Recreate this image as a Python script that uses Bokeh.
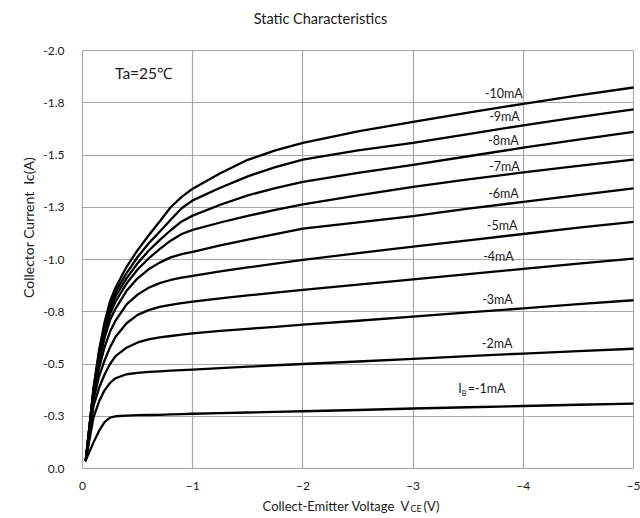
import math
from bokeh.plotting import figure
from bokeh.models import Range1d, FixedTicker, Label, PrintfTickFormatter
from bokeh.layouts import gridplot
from bokeh.embed import file_html
from bokeh.resources import INLINE

# ---- data ----
vce = [-0.03, -0.1, -0.15, -0.2, -0.25, -0.3, -0.4, -0.5, -0.6, -0.7, -0.8, -0.9,
       -1.0, -1.25, -1.5, -1.75, -2.0, -2.5, -3.0, -3.5, -4.0, -4.5, -5.0]

ic_1mA = [-0.04, -0.125, -0.18, -0.222, -0.243, -0.25, -0.253, -0.255, -0.256, -0.257, -0.259, -0.26,
          -0.262, -0.265, -0.268, -0.271, -0.274, -0.28, -0.287, -0.293, -0.299, -0.305, -0.31]
ic_2mA = [-0.04, -0.245, -0.32, -0.374, -0.41, -0.432, -0.451, -0.458, -0.462, -0.465, -0.468, -0.471,
          -0.473, -0.48, -0.487, -0.494, -0.5, -0.512, -0.525, -0.538, -0.55, -0.562, -0.573]
ic_3mA = [-0.04, -0.3, -0.385, -0.45, -0.5, -0.538, -0.578, -0.603, -0.618, -0.627, -0.634, -0.641,
          -0.647, -0.658, -0.668, -0.678, -0.688, -0.707, -0.727, -0.747, -0.766, -0.786, -0.805]
ic_4mA = [-0.04, -0.33, -0.44, -0.517, -0.58, -0.63, -0.695, -0.735, -0.758, -0.773, -0.783, -0.791,
          -0.798, -0.814, -0.828, -0.842, -0.855, -0.88, -0.905, -0.93, -0.955, -0.98, -1.004]
ic_5mA = [-0.04, -0.35, -0.48, -0.58, -0.655, -0.708, -0.785, -0.832, -0.865, -0.887, -0.902, -0.913,
          -0.922, -0.943, -0.962, -0.98, -0.998, -1.03, -1.062, -1.092, -1.122, -1.152, -1.18]
ic_6mA = [-0.04, -0.36, -0.51, -0.625, -0.71, -0.765, -0.85, -0.91, -0.953, -0.985, -1.01, -1.026,
          -1.037, -1.068, -1.095, -1.122, -1.148, -1.178, -1.208, -1.243, -1.276, -1.308, -1.34]
ic_7mA = [-0.04, -0.37, -0.53, -0.65, -0.74, -0.8, -0.885, -0.952, -1.005, -1.05, -1.09, -1.122,
          -1.142, -1.177, -1.209, -1.238, -1.264, -1.307, -1.347, -1.383, -1.417, -1.448, -1.478]
ic_8mA = [-0.04, -0.375, -0.545, -0.67, -0.76, -0.825, -0.91, -0.982, -1.042, -1.093, -1.14, -1.182,
          -1.21, -1.262, -1.307, -1.342, -1.371, -1.415, -1.453, -1.494, -1.535, -1.574, -1.611]
ic_9mA = [-0.04, -0.38, -0.555, -0.685, -0.78, -0.845, -0.935, -1.012, -1.077, -1.133, -1.19, -1.245,
          -1.283, -1.343, -1.398, -1.442, -1.478, -1.522, -1.558, -1.6, -1.642, -1.681, -1.718]
ic_10mA = [-0.04, -0.385, -0.565, -0.7, -0.8, -0.865, -0.965, -1.045, -1.115, -1.182, -1.25, -1.3,
           -1.339, -1.413, -1.477, -1.522, -1.558, -1.613, -1.658, -1.703, -1.745, -1.785, -1.823]

series = [ic_1mA, ic_2mA, ic_3mA, ic_4mA, ic_5mA, ic_6mA, ic_7mA, ic_8mA, ic_9mA, ic_10mA]
curve_labels = ["=-1mA", "-2mA", "-3mA", "-4mA", "-5mA", "-6mA", "-7mA", "-8mA", "-9mA", "-10mA"]

x_ticks = [0, -1, -2, -3, -4, -5]
y_ticks = [0, -0.25, -0.5, -0.75, -1.0, -1.25, -1.5, -1.75, -2.0]

FONT = "Lato"
TXT = "#1a1a1a"
GRID = "#a6a6a6"

# canvas geometry (pixels)
LEFT_W = 38            # strip holding the y-axis title
FRAME_L, FRAME_R = 82, 633
FRAME_T, FRAME_B = 50, 468
TOP_H = 34
BOT_H = 25
MAIN_W = 640 - LEFT_W
MAIN_H = 518 - TOP_H - BOT_H


def text_strip(width, height, xr, yr):
    f = figure(width=width, height=height, output_backend="svg", toolbar_location=None,
               x_range=xr, y_range=yr, min_border=0, x_axis_type=None, y_axis_type=None)
    f.outline_line_color = None
    f.grid.visible = False
    f.background_fill_color = "white"
    f.border_fill_color = "white"
    return f


# ---- main chart ----
p = figure(width=MAIN_W, height=MAIN_H, output_backend="svg", toolbar_location=None,
           x_range=Range1d(0, -5), y_range=Range1d(0, -2),
           min_border_left=FRAME_L - LEFT_W, min_border_right=640 - FRAME_R,
           min_border_top=FRAME_T - TOP_H, min_border_bottom=BOT_H)
p.background_fill_color = "white"
p.border_fill_color = "white"
p.outline_line_color = GRID
p.outline_line_width = 1

for ax in (p.xaxis, p.yaxis):
    ax.axis_line_color = GRID
    ax.major_tick_line_color = None
    ax.minor_tick_line_color = None
    ax.major_label_text_font = FONT
    ax.major_label_text_font_size = "12px"
    ax.major_label_text_color = TXT

p.xaxis.ticker = FixedTicker(ticks=x_ticks)
p.yaxis.ticker = FixedTicker(ticks=y_ticks)
p.yaxis.formatter = PrintfTickFormatter(format="%.1f")
p.xaxis.major_label_standoff = 7
p.yaxis.major_label_standoff = 12

p.xgrid.grid_line_color = GRID
p.ygrid.grid_line_color = GRID
p.xgrid.grid_line_width = 1.2
p.ygrid.grid_line_width = 1.2
p.xgrid.ticker = FixedTicker(ticks=x_ticks)
p.ygrid.ticker = FixedTicker(ticks=y_ticks)

for ic in series:
    p.line(vce, ic, line_color="black", line_width=2.3, line_join="round", line_cap="round")

# curve labels (annotation anchors, right-aligned)
label_pos = [(-3.441, -0.382), (-3.902, -0.597), (-3.905, -0.808), (-3.914, -1.015), (-3.947, -1.164),
             (-3.959, -1.316), (-3.968, -1.443), (-3.959, -1.571), (-3.968, -1.683), (-3.995, -1.795)]
for i, (txt, (lx, ly)) in enumerate(zip(curve_labels, label_pos)):
    if i == 0:
        p.add_layout(Label(x=-3.495, y=ly, text=txt, text_font=FONT, text_font_size="12.5px",
                           text_color=TXT, text_align="left", text_baseline="middle"))
        p.add_layout(Label(x=lx, y=ly, text="I", text_font=FONT, text_font_size="12.5px",
                           text_color=TXT, text_align="right", text_baseline="middle"))
        p.add_layout(Label(x=lx, y=ly, y_offset=-4, text="B", text_font=FONT, text_font_size="7px",
                           text_color=TXT, text_align="left", text_baseline="middle"))
    else:
        p.add_layout(Label(x=lx, y=ly, text=txt, text_font=FONT, text_font_size="12.5px",
                           text_color=TXT, text_align="right", text_baseline="middle"))

p.add_layout(Label(x=-0.295, y=-1.89, text="Ta=25℃", text_font=FONT, text_font_size="15.5px",
                   text_color=TXT, text_align="left", text_baseline="middle"))

# ---- title strip (x in canvas pixels over the aligned frame) ----
top = text_strip(MAIN_W, TOP_H, Range1d(FRAME_L, FRAME_R), Range1d(TOP_H, 0))
top.add_layout(Label(x=320, y=18, text="Static Characteristics", text_font=FONT,
                     text_font_size="14.5px", text_color=TXT, text_align="center",
                     text_baseline="middle"))

# ---- y-axis title strip (y in canvas pixels over the aligned frame) ----
left = text_strip(LEFT_W, MAIN_H, Range1d(0, LEFT_W), Range1d(FRAME_B, FRAME_T))
left.add_layout(Label(x=28, y=227, text="Collector Current\u00a0 Ic(A)", text_font=FONT,
                      text_font_size="14px", text_color=TXT, text_align="center",
                      text_baseline="middle", angle=math.pi / 2))

# ---- x-axis title strip with subscript ----
bot = text_strip(MAIN_W, BOT_H, Range1d(FRAME_L, FRAME_R), Range1d(BOT_H, 0))
bot.add_layout(Label(x=410, y=12, text="Collect-Emitter Voltage\u00a0 V", text_font=FONT,
                     text_font_size="13px", text_color=TXT, text_align="right",
                     text_baseline="middle"))
bot.add_layout(Label(x=410, y=15, text="CE", text_font=FONT, text_font_size="9px",
                     text_color=TXT, text_align="left", text_baseline="middle"))
bot.add_layout(Label(x=423, y=12, text="(V)", text_font=FONT, text_font_size="13px",
                     text_color=TXT, text_align="left", text_baseline="middle"))

grid = gridplot([[None, top], [left, p], [None, bot]], toolbar_location=None)
open("out.html", "w").write(file_html(grid, INLINE))
